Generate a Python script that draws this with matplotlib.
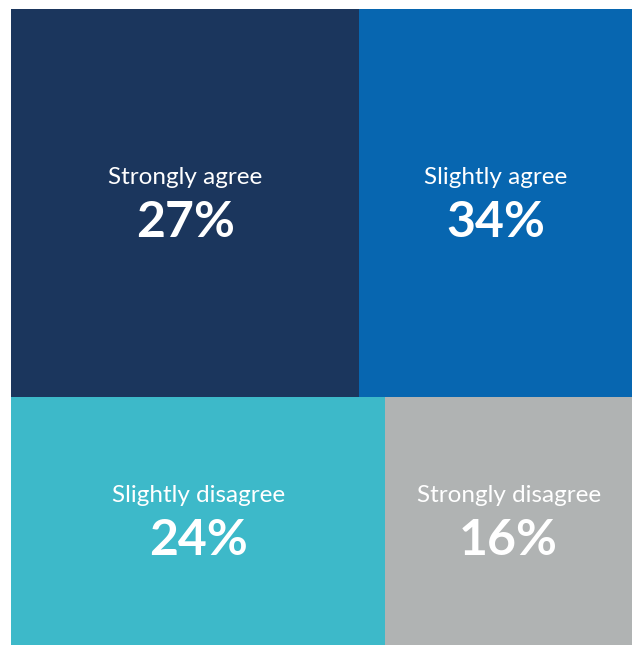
import matplotlib.pyplot as plt
from matplotlib.patches import Rectangle

# tile labels, shown percentages and tile areas
labels = ['Strongly agree', 'Slightly agree', 'Slightly disagree', 'Strongly disagree']
pcts = [27, 34, 24, 16]
sizes = [34.2, 26.8, 23.5, 15.5]
rows = [[0, 1], [2, 3]]
colors = ['#1b365d', '#0766b0', '#3db9c9', '#b0b3b3']

plt.rcParams['font.family'] = ['Lato', 'DejaVu Sans']

fig = plt.figure(figsize=(6.33, 6.45), dpi=100)
ax = fig.add_axes([11 / 633, 0, 621 / 633, 636 / 645])
ax.set_xlim(0, 1)
ax.set_ylim(1, 0)
ax.axis('off')

total = sum(sizes)
y = 0
for row in rows:
    row_total = sum(sizes[i] for i in row)
    h = row_total / total
    x = 0
    for i in row:
        w = sizes[i] / row_total
        ax.add_patch(Rectangle((x, y), w, h, facecolor=colors[i], edgecolor='none'))
        cx, cy = x + w / 2, y + h / 2
        ax.annotate(labels[i], (cx, cy), xytext=(0, 18), textcoords='offset points',
                    ha='center', va='center', color='white', fontsize=17.5)
        ax.annotate(f'{pcts[i]}%', (cx, cy), xytext=(0, -14), textcoords='offset points',
                    ha='center', va='center', color='white', fontsize=36, fontweight='bold')
        x += w
    y += h

fig.savefig('out.png', dpi=100)
